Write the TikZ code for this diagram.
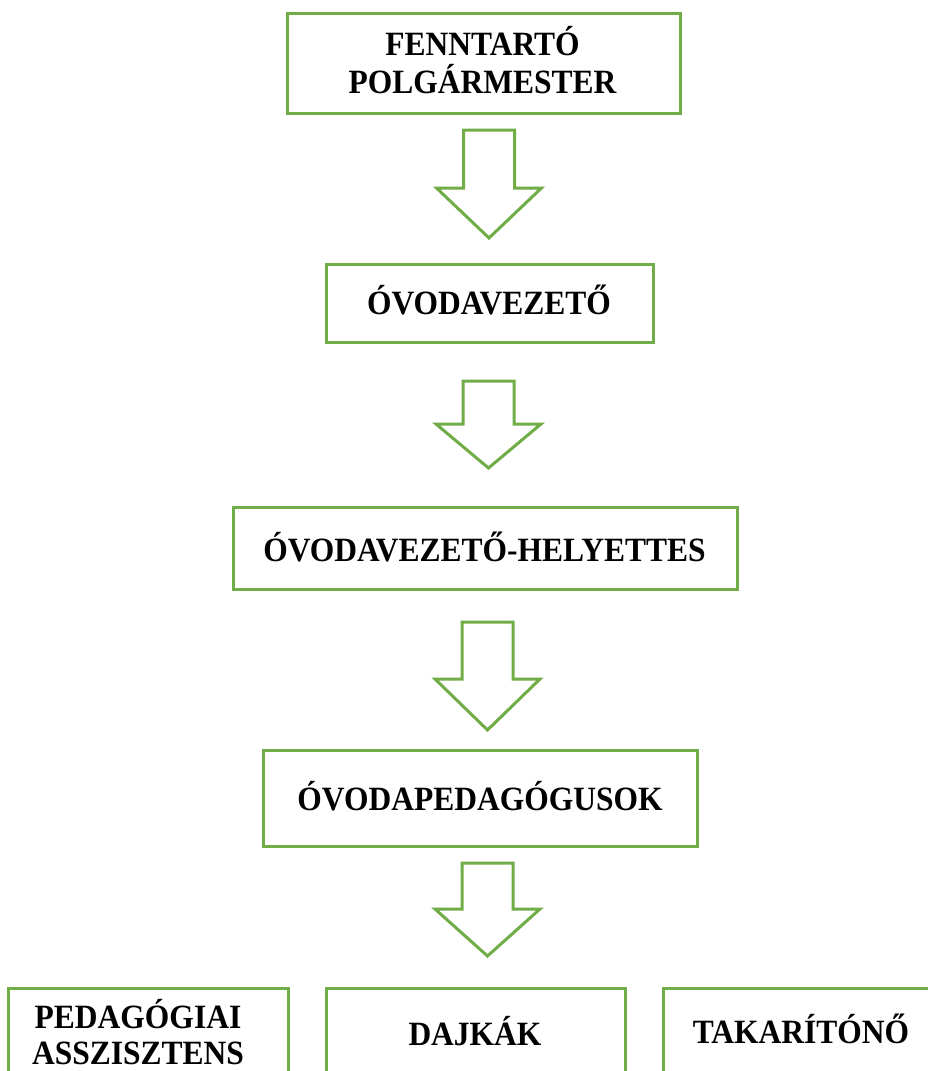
\documentclass[tikz,border=0pt]{standalone}
\usepackage{fontspec}
\usepackage{graphicx}
\setmainfont{Liberation Serif}
\definecolor{ogreen}{HTML}{70AD47}
\newcommand\tallbold[1]{\scalebox{1}[1.08]{#1}}
\newcommand\downblockarrow[4]{%
  \draw[blockarr] (#1-25.5,#2) -- (#1+25.5,#2) -- (#1+25.5,#3) -- (#1+52.5,#3)
    -- (#1,#4) -- (#1-52.5,#3) -- (#1-25.5,#3) -- cycle;}
\begin{document}
\begin{tikzpicture}[x=1pt,y=-1pt,
  box/.style={draw=ogreen,line width=3pt,fill=white,inner sep=0pt,outer sep=0pt},
  lbl/.style={font=\fontsize{31.5}{38}\selectfont\bfseries,anchor=base,inner sep=0pt},
  blockarr/.style={draw=ogreen,line width=3pt,line join=miter,fill=white}]
\useasboundingbox (0,0) rectangle (928,1071);
\fill[white] (0,0) rectangle (928,1071);
\begin{scope}
\clip (0,0) rectangle (928,1071);
% boxes
\node[box,minimum width=393pt,minimum height=100pt] (b1) at (483.5,63) {};
\node[box,minimum width=327pt,minimum height=78pt] (b2) at (489.5,303) {};
\node[box,minimum width=504pt,minimum height=82pt] (b3) at (485,548) {};
\node[box,minimum width=434pt,minimum height=96pt] (b4) at (480,798) {};
\node[box,minimum width=280pt,minimum height=122pt] (b5) at (148,1049) {};
\node[box,minimum width=299pt,minimum height=122pt] (b6) at (475.5,1049) {};
\node[box,minimum width=277pt,minimum height=122pt] (b7) at (801.5,1049) {};
% labels
\node[lbl] (t1a) at (482.5,55) {\tallbold{FENNTARTÓ}};
\node[lbl] (t1b) at (482.5,93) {\tallbold{POLGÁRMESTER}};
\node[lbl] (t2) at (489,314) {\tallbold{ÓVODAVEZETŐ}};
\node[lbl] (t3) at (484.5,561) {\tallbold{ÓVODAVEZETŐ-HELYETTES}};
\node[lbl] (t4) at (480,810) {\tallbold{ÓVODAPEDAGÓGUSOK}};
\node[lbl] (t5a) at (138,1028) {\tallbold{PEDAGÓGIAI}};
\node[lbl] (t5b) at (138,1064) {\tallbold{ASSZISZTENS}};
\node[lbl] (t6) at (475,1045) {\tallbold{DAJKÁK}};
\node[lbl] (t7) at (801,1043) {\tallbold{TAKARÍTÓNŐ}};
% block arrows
\downblockarrow{489}{130}{188}{238}
\downblockarrow{488.5}{381}{424}{468}
\downblockarrow{487.5}{622}{679}{730}
\downblockarrow{487.5}{863}{909}{956}
\end{scope}
\end{tikzpicture}
\end{document}
